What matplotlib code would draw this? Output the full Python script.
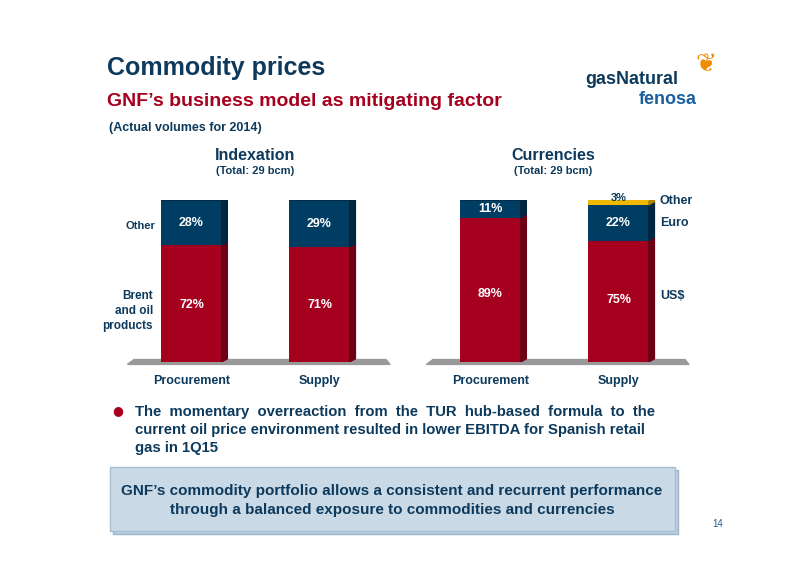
import matplotlib.pyplot as plt
from matplotlib.patches import Rectangle

plt.rcParams['font.family'] = ['Liberation Sans', 'DejaVu Sans']

# data
cats = ['Procurement', 'Supply']
idx_oil = [72, 71]
idx_other = [28, 29]
cur_usd = [89, 75]
cur_euro = [11, 22]
cur_other = [0, 3]

RED = '#a6001f'
RED_D = '#6e0015'
BLUE = '#003d63'
BLUE_D = '#00263f'
GOLD = '#f0b800'
GOLD_D = '#b08600'
NAVY = '#0d3a5c'

W, H = 800, 565
fig = plt.figure(figsize=(8, 5.65), dpi=100)


def fx(px):
    return px / W


def fy(py):
    return 1 - py / H


def bar3d(ax, x, bottom, height, color, dark, w=0.47, dx=0.045, dy=2.0):
    ax.bar(x, height, bottom=bottom, width=w, color=color, zorder=3)
    r = x + w / 2
    top = bottom + height
    ax.fill([r, r + dx, r + dx, r], [bottom, bottom + dy, top + dy, top], color=dark, zorder=3)


def top3d(ax, x, top, color, w=0.47, dx=0.045, dy=2.0):
    l, r = x - w / 2, x + w / 2
    ax.fill([l, l + dx, r + dx, r], [top, top + dy, top + dy, top], color=color, zorder=4)


def make_axes(left_px):
    ax = fig.add_axes([fx(left_px), fy(362), fx(260), 162 / H])
    ax.set_xlim(-0.48, 1.55)
    ax.set_ylim(0, 100)
    ax.axis('off')
    ax.fill([-0.5, 1.55, 1.52, -0.45], [-1.5, -1.5, 1.5, 1.5], color='#999999', zorder=1, clip_on=False)
    return ax


ax1 = make_axes(130)
for i in range(2):
    bar3d(ax1, i, 0, idx_oil[i], RED, RED_D)
    bar3d(ax1, i, idx_oil[i], idx_other[i], BLUE, BLUE_D)
    top3d(ax1, i, 100, BLUE_D)
    ax1.text(i, 35, f'{idx_oil[i]}%', color='white', ha='center', va='center', fontsize=9, fontweight='bold', zorder=5)
    ax1.text(i, idx_oil[i] + 14, f'{idx_other[i]}%', color='white', ha='center', va='center', fontsize=9, fontweight='bold', zorder=5)
    ax1.text(i, -12, cats[i], color=NAVY, ha='center', va='center', fontsize=9, fontweight='bold')

ax2 = make_axes(429)
for i in range(2):
    bar3d(ax2, i, 0, cur_usd[i], RED, RED_D)
    bar3d(ax2, i, cur_usd[i], cur_euro[i], BLUE, BLUE_D)
    if cur_other[i]:
        bar3d(ax2, i, cur_usd[i] + cur_euro[i], cur_other[i], GOLD, GOLD_D)
        top3d(ax2, i, 100, GOLD)
        ax2.text(i, 101.5, f'{cur_other[i]}%', color=NAVY, ha='center', va='center', fontsize=8, fontweight='bold', zorder=5)
    else:
        top3d(ax2, i, 100, BLUE_D)
    ax2.text(i, 42 if i == 0 else 38, f'{cur_usd[i]}%', color='white', ha='center', va='center', fontsize=9, fontweight='bold', zorder=5)
    ax2.text(i, cur_usd[i] + cur_euro[i] / 2, f'{cur_euro[i]}%', color='white', ha='center', va='center', fontsize=9, fontweight='bold', zorder=5)
    ax2.text(i, -12, cats[i], color=NAVY, ha='center', va='center', fontsize=9, fontweight='bold')

# titles
fig.text(fx(107), fy(68), 'Commodity prices', color=NAVY, fontsize=18, fontweight='bold', va='center')
fig.text(fx(107), fy(101), 'GNF’s business model as mitigating factor', color=RED, fontsize=14, fontweight='bold', va='center')
fig.text(fx(109), fy(128), '(Actual volumes for 2014)', color=NAVY, fontsize=9, fontweight='bold', va='center')
fig.text(fx(255), fy(155), 'Indexation', color=NAVY, fontsize=11.5, fontweight='bold', ha='center', va='center')
fig.text(fx(255), fy(171), '(Total: 29 bcm)', color=NAVY, fontsize=8, fontweight='bold', ha='center', va='center')
fig.text(fx(553), fy(155), 'Currencies', color=NAVY, fontsize=11.5, fontweight='bold', ha='center', va='center')
fig.text(fx(553), fy(171), '(Total: 29 bcm)', color=NAVY, fontsize=8, fontweight='bold', ha='center', va='center')

# side labels
fig.text(fx(155), fy(226), 'Other', color=NAVY, fontsize=8, fontweight='bold', ha='right', va='center')
fig.text(fx(153), fy(311), 'Brent\nand oil\nproducts', color=NAVY, fontsize=8.5, fontweight='bold', ha='right', va='center', multialignment='right', linespacing=1.3)
fig.text(fx(660), fy(201), 'Other', color=NAVY, fontsize=9, fontweight='bold', va='center')
fig.text(fx(660), fy(223), 'Euro', color=NAVY, fontsize=9, fontweight='bold', va='center')
fig.text(fx(660), fy(296), 'US$', color=NAVY, fontsize=9, fontweight='bold', va='center')

# logo
fig.text(fx(585), fy(80), 'gasNatural', color=NAVY, fontsize=13, fontweight='bold', va='center')
fig.text(fx(697), fy(99), 'fenosa', color='#1a5f9e', fontsize=13, fontweight='bold', va='center', ha='right')
fig.text(fx(706), fy(64), '❦', color='#f08c00', fontsize=18, va='center', ha='center', family='DejaVu Sans')

# bullet
fig.text(fx(112), fy(411), '●', color=RED, fontsize=9, va='center', family='DejaVu Sans')
bullet = ['The  momentary  overreaction  from  the  TUR  hub-based  formula  to  the',
          'current oil price environment resulted in lower EBITDA for Spanish retail',
          'gas in 1Q15']
for k, line in enumerate(bullet):
    fig.text(fx(135), fy(412 + 18 * k), line, color=NAVY, fontsize=10.7, fontweight='bold', va='center')

# box
fig.patches.append(Rectangle((fx(113), fy(534)), fx(565), (534 - 470) / H, transform=fig.transFigure,
                             facecolor='#bcd0e0', edgecolor='#9bb4c8', lw=1))
fig.patches.append(Rectangle((fx(110), fy(531)), fx(565), (531 - 467) / H, transform=fig.transFigure,
                             facecolor='#c9d9e6', edgecolor='#a8bfd1', lw=1))
fig.text(fx(392), fy(491), 'GNF’s commodity portfolio allows a consistent and recurrent performance',
         color=NAVY, fontsize=11, fontweight='bold', ha='center', va='center')
fig.text(fx(392), fy(510), 'through a balanced exposure to commodities and currencies',
         color=NAVY, fontsize=11, fontweight='bold', ha='center', va='center')
fig.text(fx(718), fy(524), '14', color='#1a5f9e', fontsize=7, ha='center', va='center')

fig.savefig('out.png', dpi=100)
